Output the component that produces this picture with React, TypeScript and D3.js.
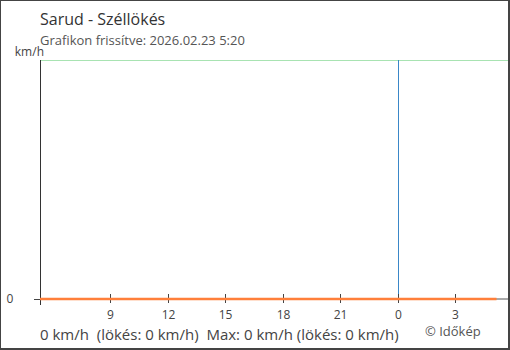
import React from "react";
import * as d3 from "d3";

const title = "Sarud - Széllökés";
const subtitle = "Grafikon frissítve: 2026.02.23 5:20";
const footer = "0 km/h  (lökés: 0 km/h)  Max: 0 km/h (lökés: 0 km/h)";
const credit = "© Időkép";
const unit = "km/h";

// hourly readings (time, gust km/h)
const times = [
  "2026-02-22T05:20", "2026-02-22T06:20", "2026-02-22T07:20", "2026-02-22T08:20",
  "2026-02-22T09:20", "2026-02-22T10:20", "2026-02-22T11:20", "2026-02-22T12:20",
  "2026-02-22T13:20", "2026-02-22T14:20", "2026-02-22T15:20", "2026-02-22T16:20",
  "2026-02-22T17:20", "2026-02-22T18:20", "2026-02-22T19:20", "2026-02-22T20:20",
  "2026-02-22T21:20", "2026-02-22T22:20", "2026-02-22T23:20", "2026-02-23T00:20",
  "2026-02-23T01:20", "2026-02-23T02:20", "2026-02-23T03:20", "2026-02-23T04:20",
  "2026-02-23T05:10",
];
const gusts = [0, 0, 0, 0, 0, 0, 0, 0, 0, 0, 0, 0, 0, 0, 0, 0, 0, 0, 0, 0, 0, 0, 0, 0, 0];
const xTickLabels = ["9", "12", "15", "18", "21", "0", "3"];
const xTickTimes = [
  "2026-02-22T09:00", "2026-02-22T12:00", "2026-02-22T15:00", "2026-02-22T18:00",
  "2026-02-22T21:00", "2026-02-23T00:00", "2026-02-23T03:00",
];
const yTickValues = [0];
const midnight = "2026-02-23T00:00";
const domainStart = "2026-02-22T05:20";
const domainEnd = "2026-02-23T05:46";
const yMax = 10;

const FONT = "'Open Sans', 'Noto Sans', sans-serif";

export default function App() {
  const W = 510, H = 350;
  const left = 40, right = 508, top = 60, bottom = 299;
  const parse = d3.timeParse("%Y-%m-%dT%H:%M");
  const x = d3.scaleTime().domain([parse(domainStart)!, parse(domainEnd)!]).range([left, right]);
  const y = d3.scaleLinear().domain([0, yMax]).range([bottom, top]);
  const data = times.map((t, i) => ({ t: parse(t)!, v: gusts[i] }));
  const line = d3.line<{ t: Date; v: number }>().x(d => x(d.t)).y(d => y(d.v));
  const mx = Math.round(x(parse(midnight)!)) + 0.5;

  return (
    <svg width={W} height={H} style={{ position: "absolute", left: 0, top: 0, display: "block" }} fontFamily={FONT}>
      <rect x={0} y={0} width={W} height={H} fill="#fff" />
      <text x={40} y={25} fontSize={16} fill="#333">{title}</text>
      <text x={40} y={45} fontSize={13} fill="#555">{subtitle}</text>
      <text x={44} y={56} fontSize={12} fill="#444" textAnchor="end">{unit}</text>

      {/* top grid line */}
      <line x1={left} x2={right} y1={y(yMax) + 0.5} y2={y(yMax) + 0.5} stroke="#a8e3b2" strokeWidth={1} />

      {/* midnight line */}
      <line x1={mx} x2={mx} y1={top} y2={bottom} stroke="#3a87c8" strokeWidth={1} />

      {/* x axis */}
      <line x1={left} x2={right} y1={bottom} y2={bottom} stroke="#555" strokeWidth={1} />
      {xTickTimes.map((t, i) => {
        const px = Math.round(x(parse(t)!)) + 0.5;
        return (
          <g key={t}>
            <line x1={px} x2={px} y1={bottom - 5} y2={bottom + 4} stroke="#444" strokeWidth={1} />
            <text x={px} y={319} fontSize={12} fill="#444" textAnchor="middle">{xTickLabels[i]}</text>
          </g>
        );
      })}

      {/* y axis */}
      <line x1={left + 0.5} x2={left + 0.5} y1={top} y2={bottom + 6} stroke="#333" strokeWidth={1} />
      {yTickValues.map(v => (
        <g key={v}>
          <line x1={left - 6} x2={left} y1={y(v) + 0.5} y2={y(v) + 0.5} stroke="#444" strokeWidth={1} />
          <text x={10} y={y(v) + 4} fontSize={12} fill="#444" textAnchor="middle">{v}</text>
        </g>
      ))}

      {/* series */}
      <path d={line(data) ?? ""} fill="none" stroke="#ff7f3a" strokeWidth={2.5} />

      <text x={40} y={340} fontSize={15} fill="#444" style={{ whiteSpace: "pre" }}>{footer}</text>
      <text x={425} y={336} fontSize={13} fill="#555">{credit}</text>

      {/* frame */}
      <line x1={0.5} x2={0.5} y1={0} y2={H} stroke="#444" strokeWidth={1} />
      <line x1={0} x2={W} y1={0.5} y2={0.5} stroke="#444" strokeWidth={1} />
      <line x1={509} x2={509} y1={0} y2={H} stroke="#444" strokeWidth={2} />
      <line x1={0} x2={W} y1={349} y2={349} stroke="#444" strokeWidth={2} />
    </svg>
  );
}
